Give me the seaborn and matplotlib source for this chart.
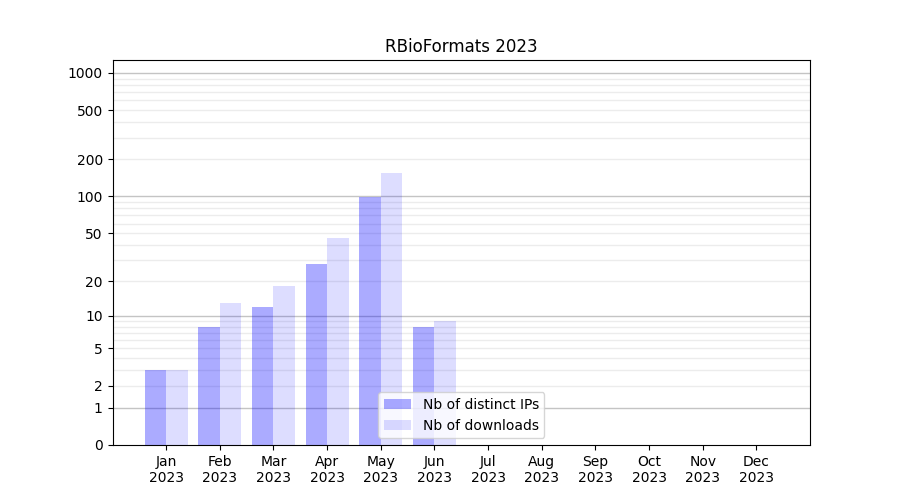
import matplotlib
matplotlib.use("Agg")
import matplotlib.pyplot as plt
import numpy as np
import pandas as pd
import seaborn as sns
from matplotlib.patches import Patch

months = ["Jan", "Feb", "Mar", "Apr", "May", "Jun",
          "Jul", "Aug", "Sep", "Oct", "Nov", "Dec"]
year = "2023"
distinct_ips = [3, 8, 12, 28, 98, 8, 0, 0, 0, 0, 0, 0]
downloads = [3, 13, 18, 46, 155, 9, 0, 0, 0, 0, 0, 0]
series_names = ["Nb of distinct IPs", "Nb of downloads"]
y_ticks = [0, 1, 2, 5, 10, 20, 50, 100, 200, 500, 1000]

df = pd.DataFrame({
    "month": months * 2,
    "value": distinct_ips + downloads,
    "series": [series_names[0]] * 12 + [series_names[1]] * 12,
})

fig, ax = plt.subplots(figsize=(9, 5), dpi=100)

ax.set_yscale("function", functions=(lambda v: np.log10(1 + np.clip(v, 0, None)),
                                     lambda v: 10 ** v - 1))

sns.barplot(data=df, x="month", y="value", hue="series", order=months,
            hue_order=series_names, palette=["#0000ff", "#0000ff"],
            saturation=1, width=0.8, ax=ax, legend=False, zorder=2)

alphas = [0.33, 0.135]
for cont, a in zip(ax.containers, alphas):
    for p in cont:
        p.set_facecolor((0, 0, 1, a))
        p.set_edgecolor("none")

# horizontal guide lines
for dec in [1, 10, 100, 1000]:
    ax.axhline(dec, color="#c4c4c4", lw=1, zorder=1)
    for m in range(2, 10):
        ax.axhline(dec * m, color="#ececec", lw=1, zorder=1)

ax.set_ylim(0, 1270)
ax.set_xlim(-1, 12)
ax.set_yticks(y_ticks)
ax.set_yticklabels([str(t) for t in y_ticks])
ax.minorticks_off()
ax.set_xticks(range(len(months)))
ax.set_xticklabels([f"{m}\n{year}" for m in months])
ax.set_xlabel("")
ax.set_ylabel("")
ax.set_title("RBioFormats 2023")

handles = [Patch(facecolor=(0, 0, 1, a), edgecolor="none") for a in alphas]
ax.legend(handles, series_names, loc="lower center")

fig.subplots_adjust(left=0.125, right=0.9, top=0.88, bottom=0.11)
fig.savefig("out.png", dpi=100)
